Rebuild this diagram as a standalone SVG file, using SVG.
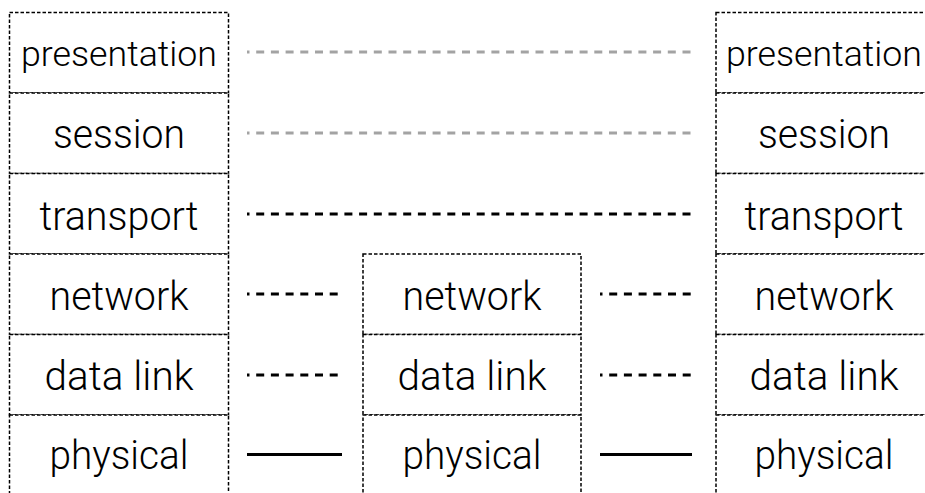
<svg xmlns="http://www.w3.org/2000/svg" width="925" height="493" viewBox="0 0 925 493">
<style>
.box{fill:#fff;stroke:#000;stroke-width:1.5;stroke-dasharray:3.5 2}
.lbl{font-family:Roboto,"Liberation Sans",Arial,sans-serif;font-weight:300;font-size:40px;fill:#000;text-anchor:middle}
.small{font-size:35px}
.gray{stroke:#a3a3a3;stroke-width:3;stroke-dasharray:8 6.7;stroke-dashoffset:5.5;fill:none}
.dash{stroke:#000;stroke-width:3;stroke-dasharray:8 6.7;stroke-dashoffset:5.5;fill:none}
.solid{stroke:#000;stroke-width:3;fill:none}
</style>
<rect width="925" height="493" fill="#fff"/>
<g id="left-stack">
<g id="left-presentation"><rect class="box" x="9.5" y="12.5" width="219" height="80.5"/><text class="lbl small" x="119" y="66" textLength="196" lengthAdjust="spacingAndGlyphs">presentation</text></g>
<g id="left-session"><rect class="box" x="9.5" y="93" width="219" height="80.5"/><text class="lbl" x="119" y="148" textLength="132" lengthAdjust="spacingAndGlyphs">session</text></g>
<g id="left-transport"><rect class="box" x="9.5" y="173.5" width="219" height="80.5"/><text class="lbl" x="119" y="230" textLength="159" lengthAdjust="spacingAndGlyphs">transport</text></g>
<g id="left-network"><rect class="box" x="9.5" y="254" width="219" height="80.5"/><text class="lbl" x="119" y="309.5" textLength="139" lengthAdjust="spacingAndGlyphs">network</text></g>
<g id="left-datalink"><rect class="box" x="9.5" y="334.5" width="219" height="80.5"/><text class="lbl" x="119" y="389.5" textLength="149" lengthAdjust="spacingAndGlyphs">data link</text></g>
<g id="left-physical"><rect class="box" x="9.5" y="415" width="219" height="82"/><text class="lbl" x="119" y="468.5" textLength="139" lengthAdjust="spacingAndGlyphs">physical</text></g>
</g>
<g id="middle-stack">
<g id="mid-network"><rect class="box" x="363" y="254" width="218" height="80.5"/><text class="lbl" x="472" y="309.5" textLength="139" lengthAdjust="spacingAndGlyphs">network</text></g>
<g id="mid-datalink"><rect class="box" x="363" y="334.5" width="218" height="80.5"/><text class="lbl" x="472" y="389.5" textLength="149" lengthAdjust="spacingAndGlyphs">data link</text></g>
<g id="mid-physical"><rect class="box" x="363" y="415" width="218" height="82"/><text class="lbl" x="472" y="468.5" textLength="139" lengthAdjust="spacingAndGlyphs">physical</text></g>
</g>
<g id="right-stack">
<g id="right-presentation"><rect class="box" x="716" y="12.5" width="218" height="80.5"/><text class="lbl small" x="824" y="66" textLength="196" lengthAdjust="spacingAndGlyphs">presentation</text></g>
<g id="right-session"><rect class="box" x="716" y="93" width="218" height="80.5"/><text class="lbl" x="824" y="148" textLength="132" lengthAdjust="spacingAndGlyphs">session</text></g>
<g id="right-transport"><rect class="box" x="716" y="173.5" width="218" height="80.5"/><text class="lbl" x="824" y="230" textLength="159" lengthAdjust="spacingAndGlyphs">transport</text></g>
<g id="right-network"><rect class="box" x="716" y="254" width="218" height="80.5"/><text class="lbl" x="824" y="309.5" textLength="139" lengthAdjust="spacingAndGlyphs">network</text></g>
<g id="right-datalink"><rect class="box" x="716" y="334.5" width="218" height="80.5"/><text class="lbl" x="824" y="389.5" textLength="149" lengthAdjust="spacingAndGlyphs">data link</text></g>
<g id="right-physical"><rect class="box" x="716" y="415" width="218" height="82"/><text class="lbl" x="824" y="468.5" textLength="139" lengthAdjust="spacingAndGlyphs">physical</text></g>
</g>
<g id="connectors">
<line class="gray" x1="247" y1="52" x2="691" y2="52"/>
<line class="gray" x1="247" y1="133" x2="691" y2="133"/>
<line class="dash" x1="247" y1="214" x2="691" y2="214"/>
<line class="dash" x1="247" y1="294" x2="342" y2="294"/>
<line class="dash" x1="600" y1="294" x2="692" y2="294"/>
<line class="dash" x1="247" y1="375" x2="342" y2="375"/>
<line class="dash" x1="600" y1="375" x2="692" y2="375"/>
<line class="solid" x1="247" y1="454.5" x2="342" y2="454.5"/>
<line class="solid" x1="600" y1="454.5" x2="692" y2="454.5"/>
</g>
</svg>
